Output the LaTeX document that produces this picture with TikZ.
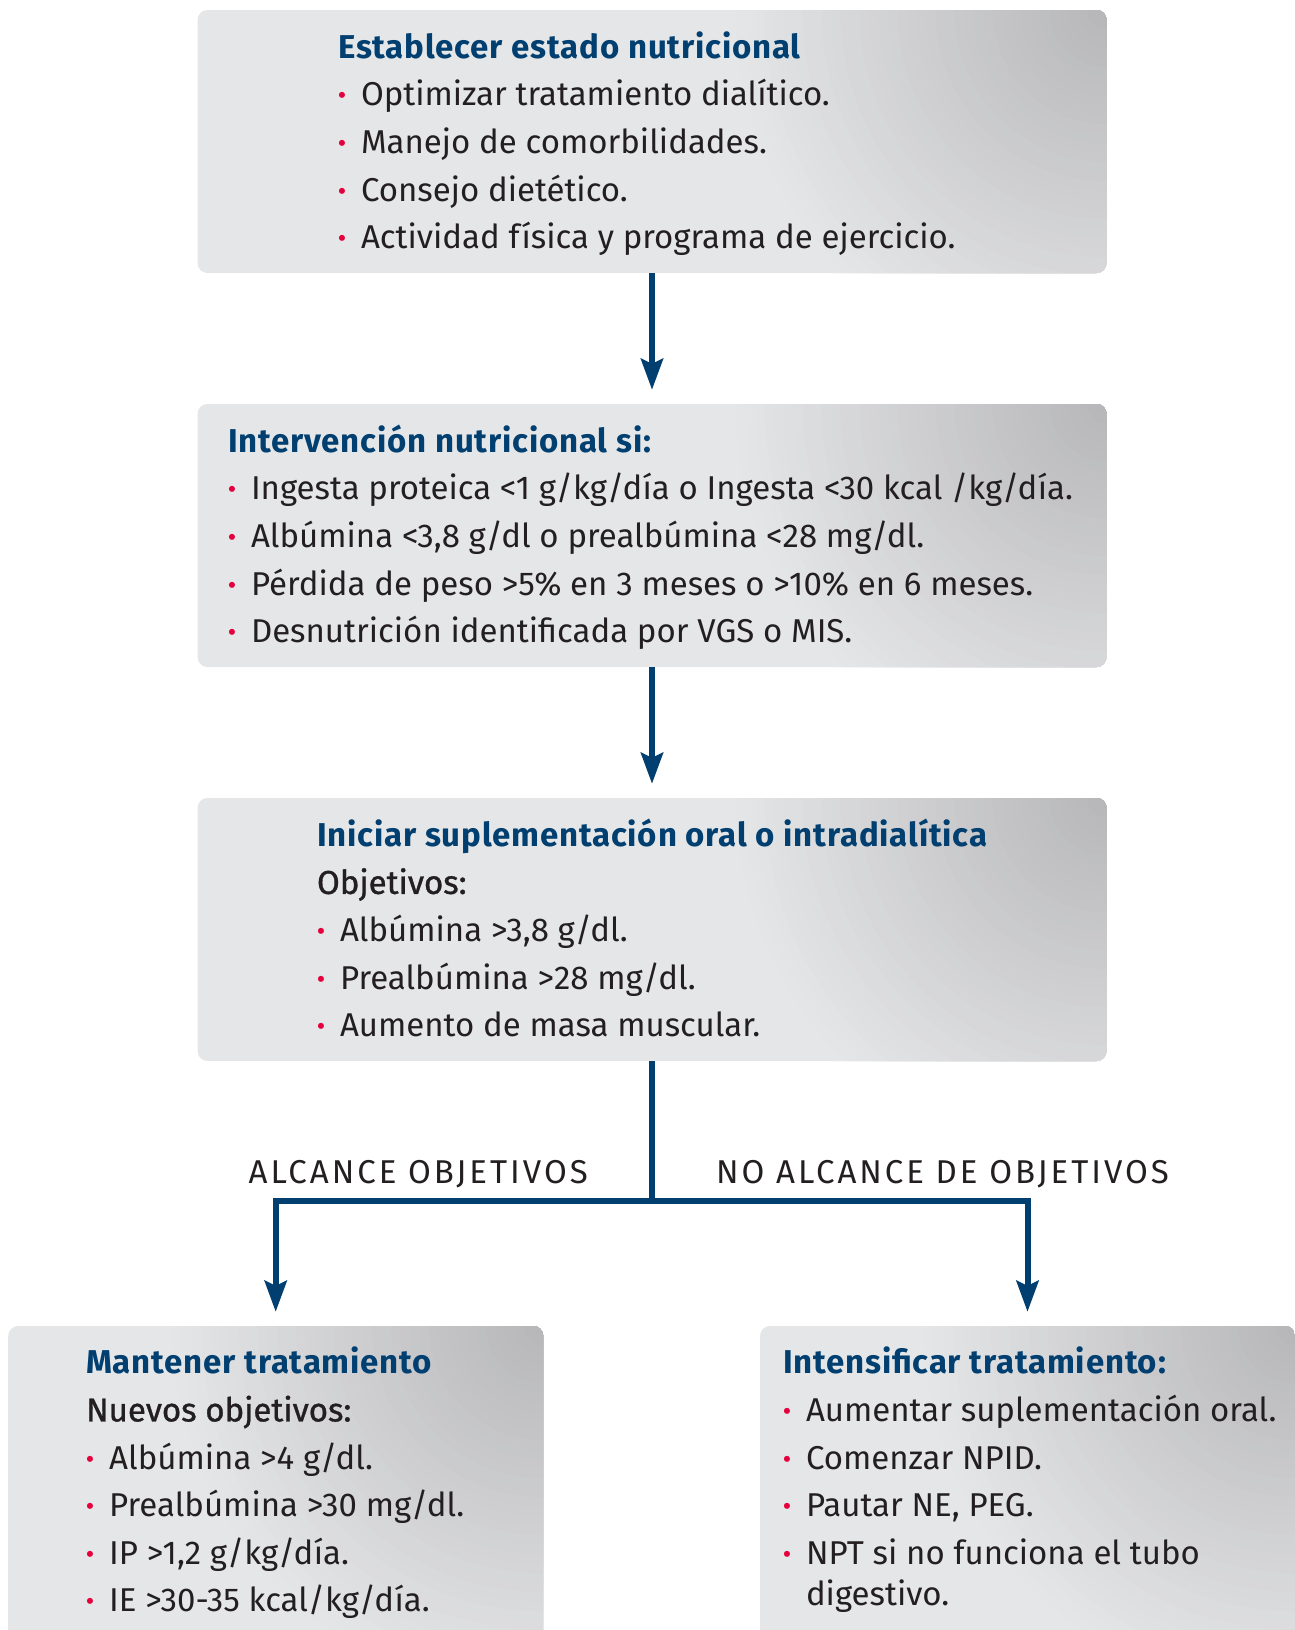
\documentclass[tikz,border=0pt]{standalone}
\usepackage{fontspec}
\setmainfont{Fira Sans}
\newfontfamily\medfont[FakeBold=1]{Fira Sans}
\newfontfamily\ttlfont[LetterSpace=2.5]{Fira Sans}
\newfontfamily\capfont[LetterSpace=9]{Fira Sans}
\usetikzlibrary{arrows.meta}

\definecolor{flowblue}{RGB}{0,63,112}
\definecolor{dotred}{RGB}{228,0,60}
\definecolor{boxgrey}{RGB}{229,230,231}
\definecolor{cornergrey}{RGB}{182,182,185}
\definecolor{inkgrey}{RGB}{35,31,32}

% title line and bullet line
\newcommand{\ttl}[1]{\textcolor{flowblue}{\ttlfont\bfseries #1}}
\newcommand{\itm}{\makebox[23pt][l]{\textcolor{dotred}{\bfseries ·}}}

\begin{document}
\begin{tikzpicture}[x=1pt,y=-1pt,
  box/.style={rounded corners=10pt,fill=boxgrey,inner sep=0pt,
    path picture={\foreach \r in {40,39,...,1}
      \fill[cornergrey!\the\numexpr100-5*\r/2\relax!boxgrey]
        (path picture bounding box.north east) circle (\r*9.5pt);}},
  wide/.style={box,minimum width=909pt,minimum height=263pt},
  half/.style={box,minimum width=535pt,minimum height=340pt},
  txt/.style={anchor=base west,inner sep=0pt,text=inkgrey,
    font=\fontsize{33}{41.6}\selectfont},
  caps/.style={txt,font=\capfont\fontsize{33}{41.6}\selectfont},
  link/.style={draw=flowblue,line width=6pt},
  flow/.style={link,-{Stealth[length=31pt,width=22pt,inset=5pt]},shorten >=14pt}]

\clip (0,0) rectangle (1295,1630);

% boxes
\node[wide] (b1) at (652,141.5) {};
\node[wide] (b2) at (652,535.5) {};
\node[wide] (b3) at (652,929.5) {};
\node[half] (b4) at (275.7,1496) {};
\node[half] (b5) at (1027.5,1496) {};

% box texts
\node[txt] (t1) at ([shift={(140.5,48.5)}]b1.north west) {\begin{tabular}[t]{@{}l@{}}
\ttl{Establecer estado nutricional}\\[6pt]
\itm Optimizar tratamiento dialítico.\\[6pt]
\itm Manejo de comorbilidades.\\[6pt]
\itm Consejo dietético.\\[6pt]
\itm Actividad física y programa de ejercicio.
\end{tabular}};

\node[txt] (t2) at ([shift={(30.5,48.5)}]b2.north west) {\begin{tabular}[t]{@{}l@{}}
\ttl{Intervención nutricional si:}\\[6pt]
\itm Ingesta proteica <1 g/kg/día o Ingesta <30 kcal /kg/día.\\[6pt]
\itm Albúmina <3,8 g/dl o prealbúmina <28 mg/dl.\\[6pt]
\itm Pérdida de peso >5\% en 3 meses o >10\% en 6 meses.\\[6pt]
\itm Desnutrición identificada por VGS o MIS.
\end{tabular}};

\node[txt] (t3) at ([shift={(119.5,48.5)}]b3.north west) {\begin{tabular}[t]{@{}l@{}}
\ttl{Iniciar suplementación oral o intradialítica}\\[6pt]
{\medfont Objetivos:}\\[6pt]
\itm Albúmina >3,8 g/dl.\\[6pt]
\itm Prealbúmina >28 mg/dl.\\[6pt]
\itm Aumento de masa muscular.
\end{tabular}};

\node[txt] (t4) at ([shift={(78,48)}]b4.north west) {\begin{tabular}[t]{@{}l@{}}
\ttl{Mantener tratamiento}\\[6pt]
{\medfont Nuevos objetivos:}\\[6pt]
\itm Albúmina >4 g/dl.\\[6pt]
\itm Prealbúmina >30 mg/dl.\\[6pt]
\itm IP >1,2 g/kg/día.\\[6pt]
\itm IE >30-35 kcal/kg/día.
\end{tabular}};

\node[txt] (t5) at ([shift={(23,48)}]b5.north west) {\begin{tabular}[t]{@{}l@{}}
\ttl{Intensificar tratamiento:}\\[6pt]
\itm Aumentar suplementación oral.\\[6pt]
\itm Comenzar NPID.\\[6pt]
\itm Pautar NE, PEG.\\[6pt]
\itm NPT si no funciona el tubo\\
\hspace*{23pt}digestivo.
\end{tabular}};

% connectors
\coordinate (split) at ([yshift=-140pt]b3.south);
\draw[flow] (b1) -- (b2);
\draw[flow] (b2) -- (b3);
\draw[link] (b3) -- (split);
\draw[flow] (split) -| (b4);
\draw[flow] (split) -| (b5);

\node[caps,anchor=base east] (yes) at ([shift={(-64,-18)}]split) {ALCANCE OBJETIVOS};
\node[caps] (no) at ([shift={(64,-18)}]split) {NO ALCANCE DE OBJETIVOS};

\end{tikzpicture}
\end{document}
